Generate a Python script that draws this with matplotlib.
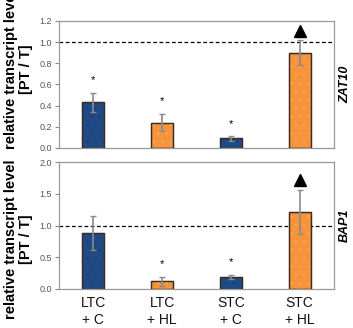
import matplotlib
matplotlib.use("Agg")
import matplotlib.pyplot as plt
import numpy as np

categories = ["LTC\n+ C", "LTC\n+ HL", "STC\n+ C", "STC\n+ HL"]
zat10_values = [0.43, 0.24, 0.09, 0.90]
zat10_errors = [0.09, 0.08, 0.02, 0.12]
zat10_marks = ["*", "*", "*", "^"]
bap1_values = [0.88, 0.12, 0.19, 1.21]
bap1_errors = [0.27, 0.07, 0.03, 0.35]
bap1_marks = ["", "*", "*", "^"]
genes = ["ZAT10", "BAP1"]
ylims = [1.2, 2.0]
yticks = [[0.0, 0.2, 0.4, 0.6, 0.8, 1.0, 1.2], [0.0, 0.5, 1.0, 1.5, 2.0]]

bar_colors = ["#1F4A85", "#F5943A", "#1F4A85", "#F5943A"]
dot_colors = ["#1a3e72", "#F8AA62", "#1a3e72", "#F8AA62"]

plt.rcParams['font.family'] = ['Liberation Sans', 'DejaVu Sans']
plt.rcParams['hatch.linewidth'] = 0.5

fig = plt.figure(figsize=(3.53, 3.28), dpi=100)
ax_top = fig.add_axes([0.167, 0.549, 0.779, 0.387])
ax_bot = fig.add_axes([0.167, 0.119, 0.779, 0.387])

x = np.arange(len(categories))
datasets = [(ax_top, zat10_values, zat10_errors, zat10_marks),
            (ax_bot, bap1_values, bap1_errors, bap1_marks)]
label_ypos = [0.62, 0.39]

for i, (ax, vals, errs, marks) in enumerate(datasets):
    ymax = ylims[i]
    ax.bar(x, vals, width=0.32, color=bar_colors, edgecolor="#3a2c20", linewidth=0.9, zorder=2)
    for xi, v, dc in zip(x, vals, dot_colors):
        ax.bar(xi, v, width=0.32, facecolor="none", edgecolor=dc, hatch="..", linewidth=0, zorder=3)
    ax.bar(x, vals, width=0.32, facecolor="none", edgecolor="#3a2c20", linewidth=0.9, zorder=4)
    ax.errorbar(x, vals, yerr=errs, fmt="none", ecolor="#8a8a8a", elinewidth=1.2,
                capsize=2.5, capthick=1.0, zorder=5)
    ax.axhline(1.0, color="black", linestyle=(0, (3, 2)), linewidth=0.9, zorder=1)
    for xi, v, e, m in zip(x, vals, errs, marks):
        if m == "*":
            ax.text(xi, v + e + ymax * 0.06, "*", ha="center", va="bottom", fontsize=8, color="black")
        elif m == "^":
            ax.plot(xi, v + e + ymax * 0.075, marker="^", color="black", markersize=8.5, zorder=6)
    ax.set_xlim(-0.5, 3.5)
    ax.set_ylim(0, ymax)
    ax.set_yticks(yticks[i])
    ax.set_yticklabels([f"{t:.1f}" for t in yticks[i]])
    ax.tick_params(axis="y", length=3, width=0.8, color="#888888", labelcolor="#555555",
                   labelsize=6.5, pad=2)
    for s in ax.spines.values():
        s.set_color("#999999")
        s.set_linewidth(0.9)
    ax.set_ylabel("relative transcript level\n[PT / T]", fontsize=10.5, fontweight="bold",
                  linespacing=1.05)
    ax.yaxis.set_label_coords(-0.095, label_ypos[i])
    ax.text(1.04, 0.5, genes[i], transform=ax.transAxes, rotation=90, ha="center", va="center",
            fontsize=9, fontweight="bold", fontstyle="italic")

ax_top.set_xticks([])
ax_bot.set_xticks(x)
ax_bot.set_xticklabels(categories, fontsize=10, linespacing=1.3)
ax_bot.tick_params(axis="x", length=0, pad=5, labelcolor="#111111")

fig.savefig("out.png", dpi=100)
